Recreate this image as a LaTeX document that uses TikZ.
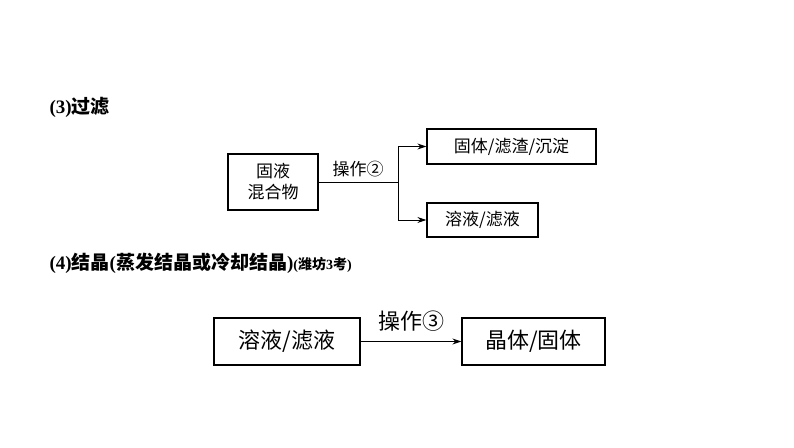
\documentclass[tikz,border=0pt]{standalone}
\usepackage{fontspec}
\setmainfont{Liberation Serif}
\newfontfamily\cjk{Noto Sans CJK SC}
\usetikzlibrary{arrows.meta}
\begin{document}
\begin{tikzpicture}[x=1pt,y=-1pt,
  bx/.style={draw,line width=1.3pt,inner sep=0pt,font=\cjk\fontsize{17}{21}\selectfont,align=center},
  ln/.style={line width=1pt},
  ar/.style={ln,-{Stealth[length=9pt,width=6pt]}}]
\useasboundingbox (0,0) rectangle (794,447);
\node[anchor=west,font=\bfseries\fontsize{19}{22}\selectfont] (h3) at (46,107) {(3){\cjk 过滤}};
\node[bx,minimum width=90,minimum height=56] (a) at (273,182) {固液\\混合物};
\node[bx,minimum width=169,minimum height=35] (b) at (511.5,146.5) {固体/滤渣/沉淀};
\node[bx,minimum width=111,minimum height=34] (c) at (482.5,220) {溶液/滤液};
\coordinate (j) at (398,182);
\draw[ln] (a.east) -- (j);
\draw[ar] (j) |- (b.west);
\draw[ar] (j) |- (c.west);
\node[font=\cjk\fontsize{17}{20}\selectfont] (l2) at (358,169) {操作②};
\node[anchor=west,font=\bfseries\fontsize{19}{22}\selectfont] (h4) at (46,263) {(4){\cjk 结晶}({\cjk 蒸发结晶或冷却结晶})\fontsize{14}{16}\selectfont({\cjk 潍坊}3{\cjk 考})};
\node[bx,font=\cjk\fontsize{22}{26}\selectfont,minimum width=146,minimum height=47] (d) at (287,341.5) {溶液/滤液};
\node[bx,font=\cjk\fontsize{22}{26}\selectfont,minimum width=143,minimum height=47] (e) at (533.5,341.5) {晶体/固体};
\draw[ar] (d) -- (e);
\node[font=\cjk\fontsize{22}{26}\selectfont] (l3) at (411,321) {操作③};
\end{tikzpicture}
\end{document}
